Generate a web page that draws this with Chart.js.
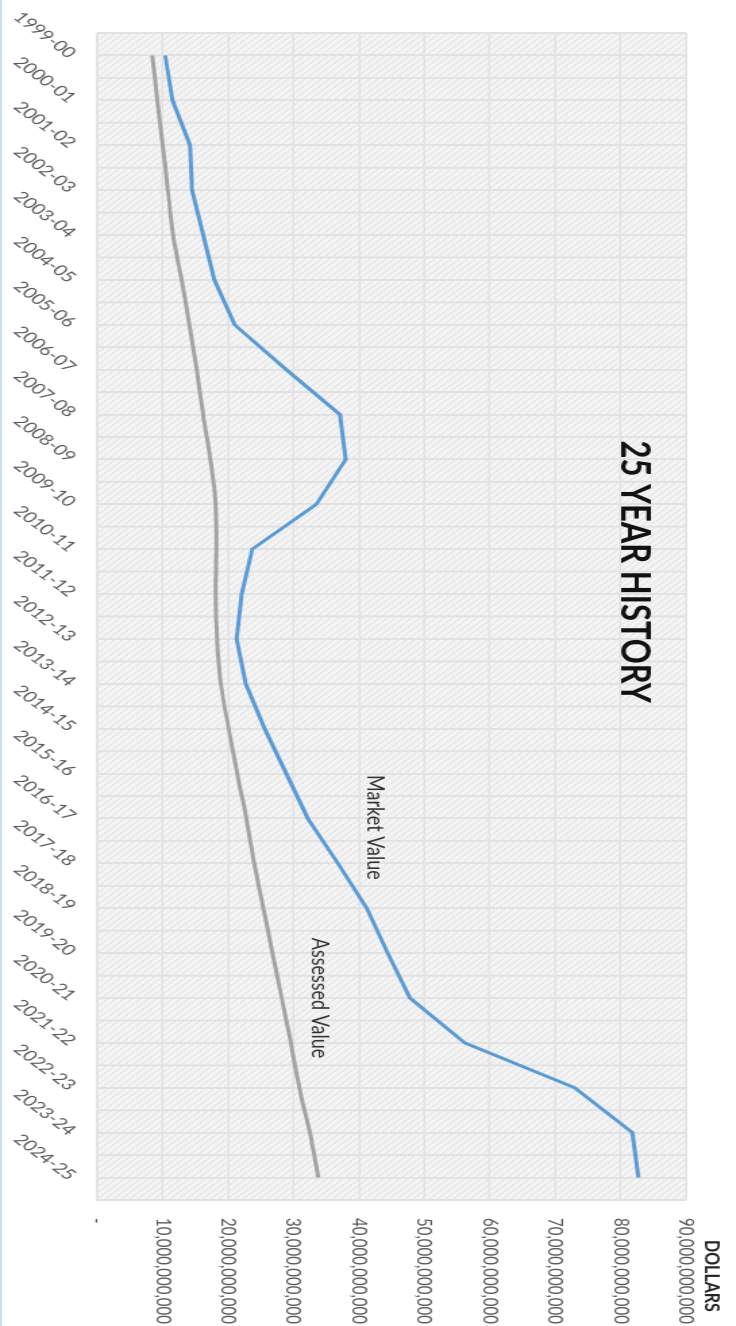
<!DOCTYPE html>
<html>
<head>
<meta charset="utf-8">
<title>25 Year History</title>
<script src="https://cdn.jsdelivr.net/npm/chart.js@4.4.1/dist/chart.umd.min.js"></script>
<style>
  html, body { margin: 0; padding: 0; background: #fff; overflow: hidden; }
  body { width: 736px; height: 1326px; position: relative; }
  #edge { position: absolute; left: 0; top: 0; width: 2px; height: 1326px; background: #c9dfee; }
  /* chart is drawn landscape, then turned a quarter clockwise like the scan */
  #wrap { position: absolute; left: 0; top: 0; width: 1326px; height: 545px;
          transform-origin: 0 0; transform: translate(736px, 0) rotate(90deg) scale(1, 1.3505); }
</style>
</head>
<body>
<div id="edge"></div>
<div id="wrap"><canvas id="historyChart" width="1326" height="545"></canvas></div>
<script>
// fiscal years
const years = ['1999-00', '2000-01', '2001-02', '2002-03', '2003-04', '2004-05', '2005-06',
    '2006-07', '2007-08', '2008-09', '2009-10', '2010-11', '2011-12', '2012-13', '2013-14',
    '2014-15', '2015-16', '2016-17', '2017-18', '2018-19', '2019-20', '2020-21', '2021-22',
    '2022-23', '2023-24', '2024-25'];

// values in billions of dollars
const marketValue = [10.4, 11.5, 14.2, 14.5, 16.2, 17.9, 21.0, 28.9, 37.1, 38.0, 33.5, 23.7, 22.1,
    21.3, 22.7, 25.6, 28.9, 32.2, 36.8, 41.2, 44.4, 47.8, 56.2, 73.0, 81.8, 82.7];
const assessedValue = [8.4, 9.2, 10.0, 10.8, 11.6, 12.9, 14.1, 15.2, 16.2, 17.3, 18.1, 18.2, 18.1,
    18.3, 18.9, 20.1, 21.4, 22.8, 24.0, 25.4, 26.8, 28.2, 29.6, 30.9, 32.5, 33.8];

// value axis (billions)
const axisMax = 90;
const axisStep = 10;

// text placed in the plot: [category index, value]
const titleText = '25 YEAR HISTORY';
const titleAt = [11.5, 82.2];
const marketLabelAt = [17.2, 42.4];
const assessedLabelAt = [21.0, 34.0];

const FONT = 'Lato, "Open Sans", sans-serif';

// light hatched fill like the spreadsheet plot area
const pat = document.createElement('canvas');
pat.width = 6;
pat.height = 6;
const pc = pat.getContext('2d');
pc.fillStyle = '#f4f4f4';
pc.fillRect(0, 0, 6, 6);
pc.strokeStyle = '#e6e6e6';
pc.lineWidth = 1.2;
pc.beginPath();
pc.moveTo(0, 0); pc.lineTo(6, 6);
pc.moveTo(-1, 5); pc.lineTo(1, 7);
pc.moveTo(5, -1); pc.lineTo(7, 1);
pc.stroke();

const plotBackground = {
    id: 'plotBackground',
    beforeDraw(chart) {
        const { ctx, chartArea: a } = chart;
        ctx.save();
        ctx.fillStyle = ctx.createPattern(pat, 'repeat');
        ctx.fillRect(a.left, a.top, a.right - a.left, a.bottom - a.top);
        ctx.restore();
    },
    // extra grid lines between the categories
    beforeDatasetsDraw(chart) {
        const { ctx, chartArea: a, scales: { x } } = chart;
        ctx.save();
        ctx.strokeStyle = '#e2e2e2';
        ctx.lineWidth = 2;
        for (let i = 0; i <= years.length; i++) {
            const px = x.getPixelForValue(i - 0.5);
            ctx.beginPath();
            ctx.moveTo(px, a.top);
            ctx.lineTo(px, a.bottom);
            ctx.stroke();
        }
        ctx.restore();
    }
};

const chartText = {
    id: 'chartText',
    afterDatasetsDraw(chart) {
        const { ctx, chartArea: a, scales: { x, y } } = chart;
        ctx.save();
        ctx.textAlign = 'center';
        ctx.textBaseline = 'middle';

        ctx.fillStyle = '#111111';
        ctx.font = 'bold 31px ' + FONT;
        ctx.fillText(titleText, x.getPixelForValue(titleAt[0]), y.getPixelForValue(titleAt[1]));

        ctx.fillStyle = '#333333';
        ctx.font = '18px ' + FONT;
        ctx.fillText('Market Value', x.getPixelForValue(marketLabelAt[0]), y.getPixelForValue(marketLabelAt[1]));
        ctx.fillText('Assessed Value', x.getPixelForValue(assessedLabelAt[0]), y.getPixelForValue(assessedLabelAt[1]));

        ctx.textAlign = 'left';
        ctx.fillStyle = '#222222';
        ctx.font = 'bold 16px ' + FONT;
        ctx.fillText('DOLLARS', a.right + 40, a.top - 19);
        ctx.restore();
    }
};

const ctx = document.getElementById('historyChart').getContext('2d');
const historyChart = new Chart(ctx, {
    type: 'line',
    data: {
        labels: years,
        datasets: [
            {
                label: 'Market Value',
                data: marketValue,
                borderColor: '#5b9bd5',
                borderWidth: 3,
                pointRadius: 0,
                tension: 0,
                fill: false
            },
            {
                label: 'Assessed Value',
                data: assessedValue,
                borderColor: '#a3a3a3',
                borderWidth: 3,
                pointRadius: 0,
                tension: 0.4,
                fill: false
            }
        ]
    },
    options: {
        responsive: false,
        animation: false,
        layout: { padding: { top: 37, right: 0, bottom: 0, left: 33 } },
        plugins: {
            legend: { display: false },
            tooltip: { enabled: false }
        },
        scales: {
            x: {
                offset: true,
                grid: { color: '#e2e2e2', lineWidth: 2, offset: false, drawTicks: false },
                border: { display: true, color: '#e4e4e4', width: 1 },
                ticks: {
                    color: '#5a5a5a',
                    font: { family: FONT, size: 15 },
                    minRotation: 45,
                    maxRotation: 45,
                    autoSkip: false,
                    padding: 12
                },
                afterFit: scale => { scale.height = 72; }
            },
            y: {
                position: 'right',
                min: 0,
                max: axisMax,
                grid: { color: '#e2e2e2', lineWidth: 1.5, drawTicks: false },
                border: { display: true, color: '#e4e4e4', width: 1 },
                ticks: {
                    stepSize: axisStep,
                    color: '#5a5a5a',
                    font: { family: FONT, size: 15 },
                    padding: 18,
                    callback: v => v === 0 ? '-' : (v * 1e9).toLocaleString('en-US')
                },
                afterFit: scale => { scale.width = 126; }
            }
        }
    },
    plugins: [plotBackground, chartText]
});
</script>
</body>
</html>
